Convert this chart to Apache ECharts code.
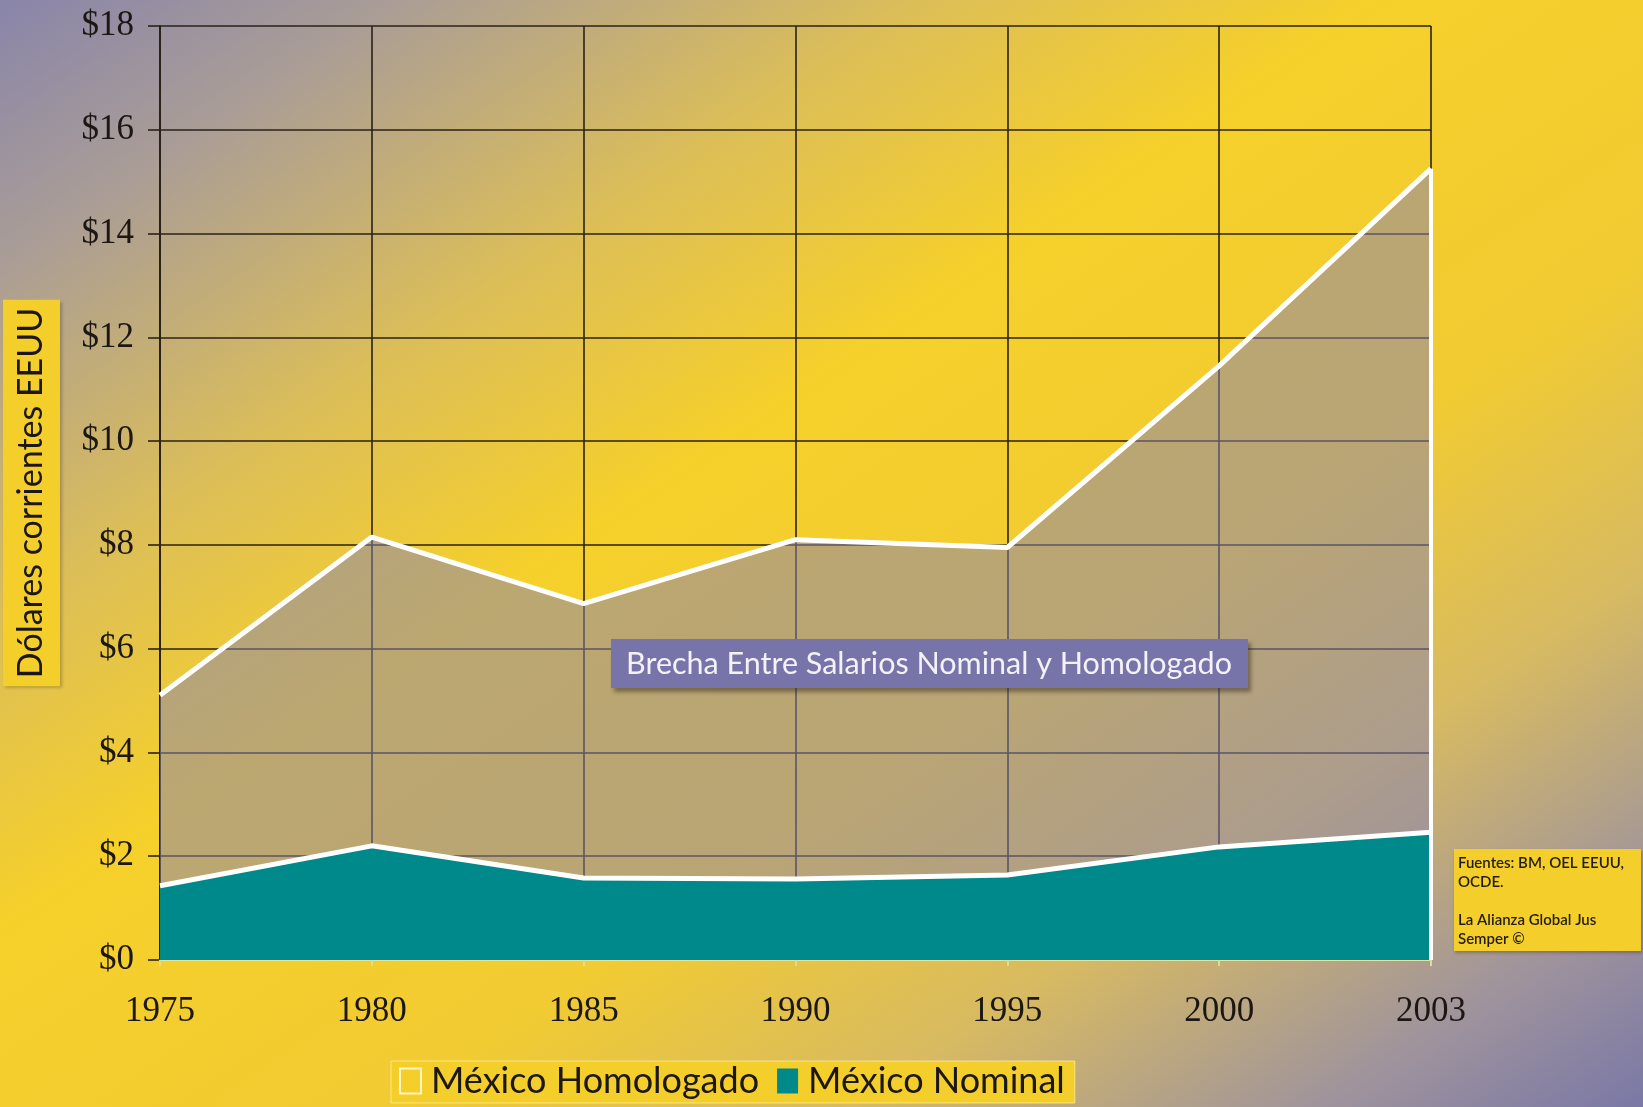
<!DOCTYPE html>
<html>
<head>
<meta charset="utf-8">
<script src="https://cdn.jsdelivr.net/npm/echarts@6/dist/echarts.min.js"></script>
<style>
  html, body { margin: 0; padding: 0; }
  #chart { width: 1643px; height: 1107px; }
</style>
</head>
<body>
<div id="chart"></div>
<script>
// data
const years = ['1975', '1980', '1985', '1990', '1995', '2000', '2003'];
const homologado = [5.1, 8.15, 6.87, 8.1, 7.95, 11.45, 15.25];
const nominal = [1.43, 2.2, 1.58, 1.56, 1.64, 2.18, 2.46];
const seriesNames = ['México Homologado', 'México Nominal'];
const yAxisTitle = 'Dólares corrientes EEUU';
const gapNote = 'Brecha Entre Salarios Nominal y Homologado';
const sourceLines = ['Fuentes: BM, OEL EEUU,', 'OCDE.', '', 'La Alianza Global Jus', 'Semper ©'];

const myChart = echarts.init(document.getElementById('chart'));

const lastIdx = years.length - 1;

const option = {
  backgroundColor: {
    type: 'linear',
    global: true,
    x: 308, y: -208, x2: 1335, y2: 1315,
    colorStops: [
      { offset: 0, color: '#8985aa' },
      { offset: 0.12, color: '#aa9d96' },
      { offset: 0.28, color: '#dcbe58' },
      { offset: 0.42, color: '#f6d02a' },
      { offset: 0.62, color: '#f1cb32' },
      { offset: 0.76, color: '#d7ba62' },
      { offset: 0.9, color: '#a0949c' },
      { offset: 1, color: '#7a78a6' }
    ]
  },
  animation: false,
  grid: { left: 160, right: 212, top: 26, bottom: 147, outerBoundsMode: 'none' },
  legend: {
    left: 391,
    top: 1061,
    itemWidth: 21,
    itemHeight: 25,
    itemGap: 18,
    padding: [2, 10, 4, 8],
    backgroundColor: '#f4cf2c',
    borderColor: 'rgba(255,240,170,0.7)',
    borderWidth: 1,
    textStyle: { fontFamily: 'Lato', fontSize: 36, color: '#1c1712', padding: [0, 0, 0, 5] },
    data: [
      { name: seriesNames[0], icon: 'rect', itemStyle: { color: '#f4cf2c', borderColor: '#fff6c0', borderWidth: 2 } },
      { name: seriesNames[1], icon: 'rect', itemStyle: { color: '#00898b', borderWidth: 0 } }
    ]
  },
  xAxis: {
    type: 'category',
    data: years,
    boundaryGap: false,
    axisLine: { lineStyle: { color: '#dfe4a4', width: 2 } },
    axisTick: { show: true, length: 6, lineStyle: { color: '#d6df98', width: 2 } },
    axisLabel: { fontFamily: 'Liberation Serif', fontSize: 35, color: '#1c1712', margin: 34 },
    splitLine: { show: true, lineStyle: { color: '#2a2218', width: 1.6 } }
  },
  yAxis: {
    type: 'value',
    min: 0,
    max: 18,
    interval: 2,
    name: yAxisTitle,
    nameLocation: 'middle',
    nameRotate: 90,
    nameGap: 100,
    nameTextStyle: {
      fontFamily: 'Lato',
      fontSize: 34,
      color: '#1c1712',
      backgroundColor: '#f4cf2c',
      padding: [11, 8, 12, 8],
      shadowColor: 'rgba(0,0,0,0.25)',
      shadowBlur: 3,
      shadowOffsetX: 2,
      shadowOffsetY: 2
    },
    axisLine: { show: true, lineStyle: { color: '#2a2218', width: 2 } },
    axisTick: { show: true, length: 12, lineStyle: { color: '#2a2218', width: 1.6 } },
    axisLabel: {
      fontFamily: 'Liberation Serif',
      fontSize: 35,
      color: '#1c1712',
      margin: 26,
      formatter: '${value}'
    },
    splitLine: { show: true, lineStyle: { color: '#2a2218', width: 1.6 } }
  },
  series: [
    {
      name: seriesNames[0],
      type: 'line',
      data: homologado,
      showSymbol: false,
      z: 2,
      lineStyle: { color: '#ffffff', width: 5 },
      itemStyle: { color: '#f4cf2c' },
      areaStyle: { color: 'rgba(135,131,178,0.52)', opacity: 1 }
    },
    {
      name: seriesNames[1],
      type: 'line',
      data: nominal,
      showSymbol: false,
      z: 3,
      lineStyle: { color: '#ffffff', width: 5 },
      itemStyle: { color: '#00898b' },
      areaStyle: { color: '#00898b', opacity: 1 },
      markLine: {
        silent: true,
        symbol: 'none',
        label: { show: false },
        lineStyle: { color: '#ffffff', width: 4, type: 'solid' },
        data: [
          [{ coord: [years[lastIdx], 0] }, { coord: [years[lastIdx], homologado[lastIdx]] }]
        ]
      }
    }
  ],
  graphic: [
    {
      type: 'group',
      left: 611,
      top: 639,
      z: 100,
      children: [
        {
          type: 'rect',
          z: 100,
          shape: { x: 0, y: 0, width: 637, height: 49 },
          style: {
            fill: '#7674a8',
            shadowColor: 'rgba(40,30,20,0.45)',
            shadowBlur: 4,
            shadowOffsetX: 3,
            shadowOffsetY: 4
          }
        },
        {
          type: 'text',
          z: 101,
          x: 318,
          y: 25,
          style: {
            text: gapNote,
            fontFamily: 'Lato',
            fontSize: 30.5,
            fill: '#f4f1f8',
            align: 'center',
            verticalAlign: 'middle'
          }
        }
      ]
    },
    {
      type: 'group',
      left: 1454,
      top: 849,
      z: 100,
      children: [
        {
          type: 'rect',
          z: 100,
          shape: { x: 0, y: 0, width: 187, height: 102 },
          style: {
            fill: '#f4cf2c',
            shadowColor: 'rgba(40,30,20,0.3)',
            shadowBlur: 3,
            shadowOffsetX: 1,
            shadowOffsetY: 2
          }
        },
        {
          type: 'text',
          z: 101,
          x: 4,
          y: 5,
          style: {
            text: sourceLines.join('\n'),
            fontFamily: 'Lato',
            fontSize: 15,
            fontWeight: 600,
            lineHeight: 19,
            fill: '#241c10'
          }
        }
      ]
    }
  ]
};

myChart.setOption(option);
</script>
</body>
</html>
